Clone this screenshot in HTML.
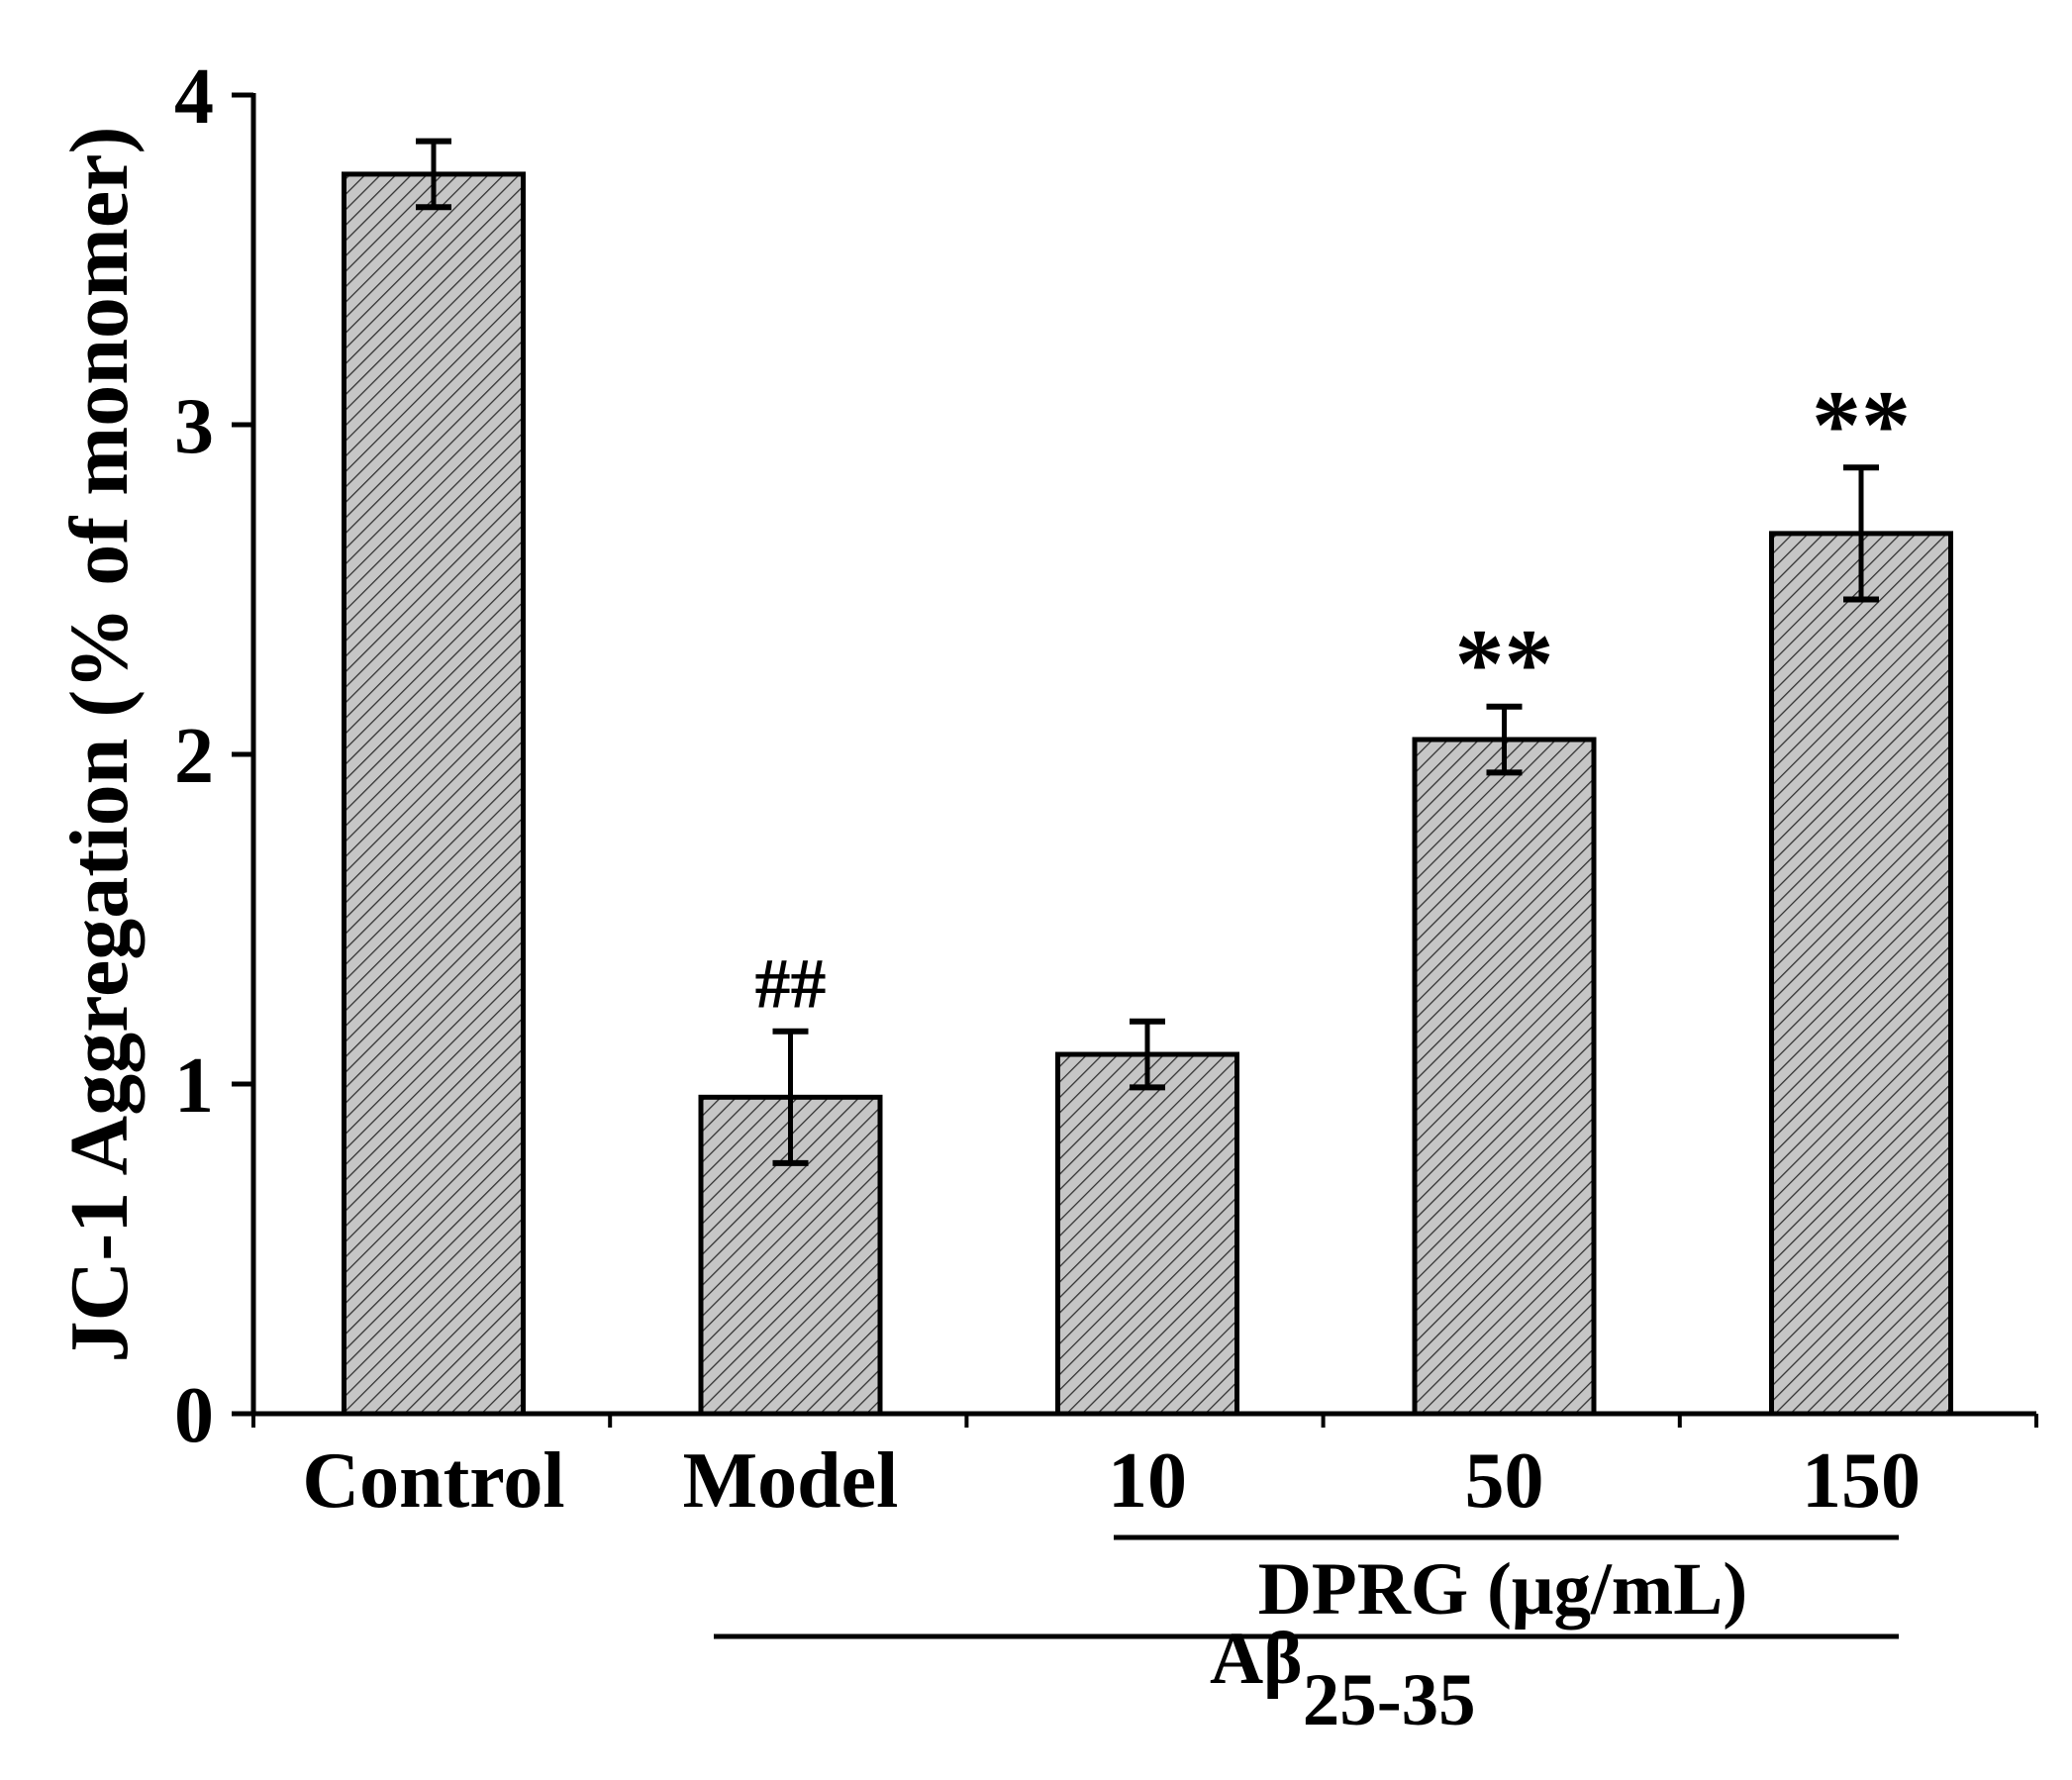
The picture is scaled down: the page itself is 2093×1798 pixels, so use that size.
<!DOCTYPE html>
<html><head><meta charset="utf-8"><style>
html,body{margin:0;padding:0;background:#fff}
svg{display:block}
text{font-family:"Liberation Serif",serif;font-weight:bold;fill:#000}
</style></head><body>
<svg id="chart" width="2093" height="1798" viewBox="0 0 2093 1798" xmlns="http://www.w3.org/2000/svg">
<defs>
<pattern id="hatch" patternUnits="userSpaceOnUse" width="11" height="11" patternTransform="rotate(45)">
<rect width="11" height="11" fill="#c6c6c6"/>
<line x1="0" y1="0" x2="0" y2="11" stroke="#333" stroke-width="2.6"/>
</pattern>
</defs>
<g id="plot"></g>
<text transform="translate(128,752) rotate(-90)" text-anchor="middle" font-size="84">JC-1 Aggregation (% of monomer)</text>
<line x1="1125" y1="1553" x2="1918" y2="1553" stroke="#000" stroke-width="5"/>
<text x="1518" y="1630" text-anchor="middle" font-size="75">DPRG (μg/mL)</text>
<line x1="721" y1="1653" x2="1918" y2="1653" stroke="#000" stroke-width="5"/>
<text x="1222" y="1700" font-size="75">Aβ<tspan font-size="75" dy="42">25-35</tspan></text>
</svg>
<script>
const categories = ["Control","Model","10","50","150"];
const values = [3.76, 0.96, 1.09, 2.045, 2.67];
const errors = [0.10, 0.20, 0.10, 0.10, 0.20];
const marks = ["", "##", "", "**", "**"];
const yTicks = [0,1,2,3,4];

const NS="http://www.w3.org/2000/svg";
const g=document.getElementById('plot');
const x0=256, x1=2057, y0=1428, yTop=96, yMax=4;
const y=v=>y0-(v/yMax)*(y0-yTop);
const step=(1698-256)/4;
const xc=i=>438+i*step;
const bw=181;
function mk(tag,attrs){const e=document.createElementNS(NS,tag);for(const k in attrs)e.setAttribute(k,attrs[k]);g.appendChild(e);return e;}

categories.forEach((c,i)=>{
  const top=y(values[i]);
  const b=mk('rect',{x:xc(i)-bw/2,y:top,width:bw,height:y0-top,fill:'url(#hatch)',stroke:'#000','stroke-width':5});
  
  
  const et=y(values[i]+errors[i]), eb=y(values[i]-errors[i]);
  const ev=mk('line',{x1:xc(i),x2:xc(i),y1:et,y2:eb,stroke:'#000','stroke-width':5});
  
  
  [et,eb].forEach(yy=>{const cap=mk('line',{x1:xc(i)-18,x2:xc(i)+18,y1:yy,y2:yy,stroke:'#000','stroke-width':6});
    
    });
  const t=mk('text',{x:xc(i),y:1522,'text-anchor':'middle','font-size':80});
  t.textContent=c;
  
  
  if(marks[i]){
    const m=mk('text',{x:xc(i),y:et-(marks[i]==='##'?24:10),'text-anchor':'middle','font-size':marks[i]==='##'?72:100});
    m.textContent=marks[i];
    
    
  }
});
for(let k=0;k<=5;k++){
  const tx=x0+k*(x1-x0)/5;
  const tk=mk('line',{x1:tx,x2:tx,y1:y0,y2:y0+14,stroke:'#000','stroke-width':4});
  
  
}
const ax=mk('line',{x1:x0-2,x2:x1,y1:y0,y2:y0,stroke:'#000','stroke-width':5});


const ay=mk('line',{x1:x0,x2:x0,y1:yTop-2,y2:y0+2,stroke:'#000','stroke-width':5});


yTicks.forEach(v=>{
  const tk=mk('line',{x1:x0-22,x2:x0,y1:y(v),y2:y(v),stroke:'#000','stroke-width':5});
  
  
  const t=mk('text',{x:x0-40,y:y(v)+28,'text-anchor':'end','font-size':80});
  t.textContent=v;
  
  
});
</script>
</body></html>
